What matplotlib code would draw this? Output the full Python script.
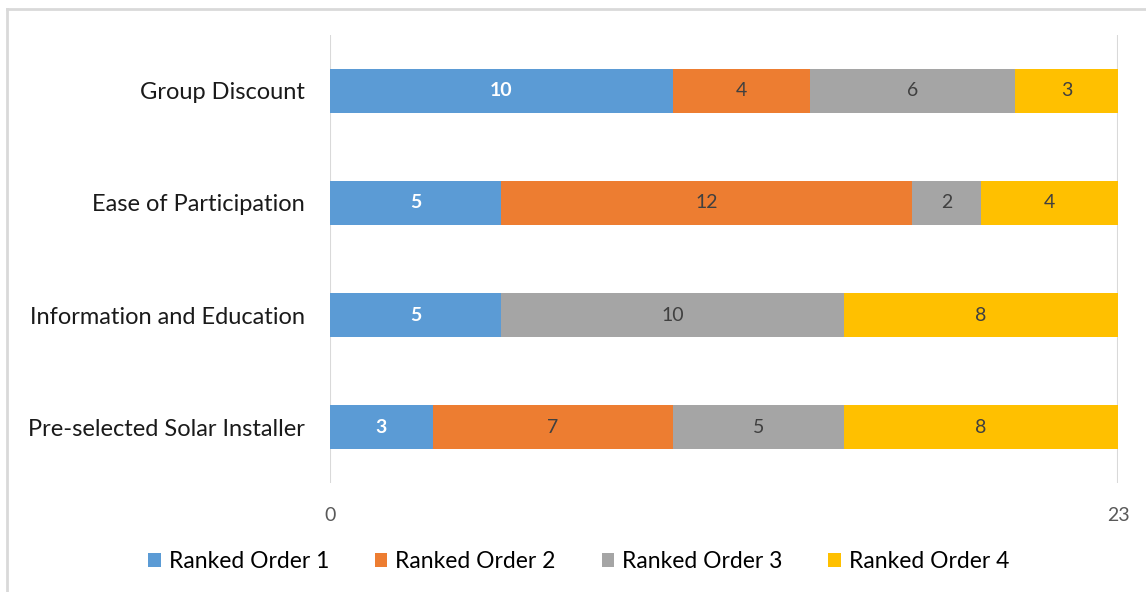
import numpy as np
import matplotlib.pyplot as plt
from matplotlib.lines import Line2D

categories = ['Group Discount', 'Ease of Participation',
              'Information and Education', 'Pre-selected Solar Installer']
series_names = ['Ranked Order 1', 'Ranked Order 2', 'Ranked Order 3', 'Ranked Order 4']
rank1 = [10, 5, 5, 3]
rank2 = [4, 12, 0, 7]
rank3 = [6, 2, 10, 5]
rank4 = [3, 4, 8, 8]
x_ticks = [0, 23]

colors = ['#5b9bd5', '#ed7d31', '#a5a5a5', '#ffc000']
plt.rcParams['font.family'] = ['Lato', 'DejaVu Sans']

fig = plt.figure(figsize=(11.46, 5.92), dpi=100)
# chart frame: only top and left edges are visible in the crop
fig.lines.append(Line2D([0.0061, 0.0061], [0, 0.985], transform=fig.transFigure,
                        color='#d9d9d9', linewidth=2))
fig.lines.append(Line2D([0.0061, 1], [0.985, 0.985], transform=fig.transFigure,
                        color='#d9d9d9', linewidth=2))
ax = fig.add_axes([0.288, 0.184, 0.6876, 0.757])

y = np.arange(len(categories))
left = np.zeros(len(categories))
for i, vals in enumerate([rank1, rank2, rank3, rank4]):
    vals = np.array(vals, dtype=float)
    bars = ax.barh(y, vals, left=left, height=0.4, color=colors[i],
                   label=series_names[i], zorder=3)
    for b, v in zip(bars, vals):
        if v == 0:
            continue
        cx = b.get_x() + b.get_width() / 2
        cy = b.get_y() + b.get_height() / 2
        if i == 0:
            ax.text(cx, cy, '%d' % v, ha='center', va='center', color='white',
                    fontsize=14, fontweight='bold', zorder=4)
        else:
            ax.text(cx, cy, '%d' % v, ha='center', va='center', color='#404040',
                    fontsize=14, zorder=4)
    left += vals

ax.set_xlim(0, 23)
ax.set_ylim(3.5, -0.5)
ax.set_xticks(x_ticks)
ax.set_yticks(y)
ax.set_yticklabels(categories, fontsize=17, color='#1a1a1a')
ax.tick_params(axis='y', length=0, pad=18)
ax.tick_params(axis='x', length=0, pad=17, labelsize=14, labelcolor='#595959')
for s in ax.spines.values():
    s.set_visible(False)
for xv in x_ticks:
    ax.axvline(xv, color='#d9d9d9', linewidth=1.5, zorder=1)

ax.legend(loc='center', bbox_to_anchor=(0.505, 0.052), bbox_transform=fig.transFigure,
          ncol=4, frameon=False, fontsize=16.5, handlelength=0.55, handleheight=0.55,
          handletextpad=0.35, columnspacing=2.0)

fig.savefig('out.png', dpi=100)
